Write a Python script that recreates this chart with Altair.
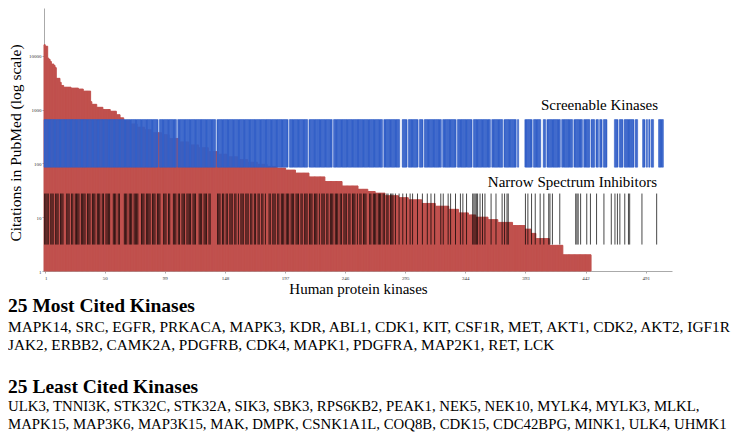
import altair as alt
import pandas as pd
import numpy as np

# ---- data ----
# sorted citation counts, as run-length steps (level, number of kinases)
citation_levels = [16000, 15000, 9000, 8500, 7800, 7000, 6600, 6000, 3800, 3200,
                   2800, 2600, 2500, 2400, 2200, 1400, 1250, 1100, 1000, 930,
                   800, 700, 620, 540, 470, 420, 370, 340, 290, 250,
                   220, 195, 165, 148, 132, 118, 105, 96, 88, 82,
                   75, 66, 56, 46, 38, 33, 30, 28, 25, 23,
                   21, 18, 16, 14, 12, 11, 10, 9, 8, 7,
                   6, 5, 4, 3, 2]
citation_counts = [1, 2, 1, 1, 1, 2, 1, 1, 3, 1,
                   2, 6, 6, 4, 6, 1, 4, 5, 6, 5,
                   3, 3, 5, 6, 6, 6, 8, 6, 8, 8,
                   8, 8, 8, 8, 8, 8, 8, 8, 8, 7,
                   8, 11, 13, 14, 13, 8, 6, 8, 11, 8,
                   11, 11, 11, 8, 8, 6, 10, 8, 12, 10,
                   5, 4, 11, 11, 23]

# screenable kinases: ranks 1..505 except these gaps
screenable_last = 505
screenable_gaps = [94, 109, 141, 200, 216, 236, 277, 291, 292, 297, 306, 310, 325,
                   337, 350, 365, 375, 386, 388, 389, 390, 391, 392, 399, 406, 407,
                   410, 422, 432, 440, 446, 450, 453, 456, 460, 461, 462, 463, 464,
                   465, 469, 473, 482, 485, 486, 487, 488, 491, 493, 495, 498, 499,
                   500, 501]

# narrow spectrum inhibitors: dense block ranks 1..285 except gaps, then sparse ranks
narrow_dense_last = 285
narrow_gaps = [5, 9, 13, 17, 18, 22, 25, 30, 35, 39, 43, 47, 50, 55, 56, 60, 63, 64,
               65, 69, 73, 78, 79, 83, 88, 92, 96, 97, 101, 104, 105, 109, 112, 116,
               121, 125, 126, 130, 134, 137, 138, 139, 140, 141, 145, 148, 151, 155,
               158, 160, 164, 168, 171, 174, 177, 180, 182, 183, 186, 190, 193, 197,
               201, 205, 209, 212, 216, 220, 224, 226, 230, 233, 237, 241, 244, 248,
               251, 255, 257, 260, 264, 265, 268, 272, 276, 279, 282]
narrow_sparse = [287, 290, 293, 296, 299, 301, 305, 309, 313, 316, 319, 324, 326,
                 330, 332, 336, 340, 342, 345, 350, 351, 352, 353, 354, 356, 358,
                 360, 365, 369, 374, 376, 378, 379, 393, 395, 398, 401, 405, 408,
                 412, 413, 415, 421, 434, 435, 436, 438, 443, 446, 451, 457, 463,
                 466, 468, 470, 474, 477, 478, 488, 500]

x_tick_values = [1, 50, 99, 148, 197, 246, 295, 344, 393, 442, 491]
y_tick_values = [1, 10, 100, 1000, 10000, 100000]

most_cited_title = "25 Most Cited Kinases"
most_cited_lines = [
    "MAPK14, SRC, EGFR, PRKACA, MAPK3, KDR, ABL1, CDK1, KIT, CSF1R, MET, AKT1, CDK2, AKT2, IGF1R",
    "JAK2, ERBB2, CAMK2A, PDGFRB, CDK4, MAPK1, PDGFRA, MAP2K1, RET, LCK",
]
least_cited_title = "25 Least Cited Kinases"
least_cited_lines = [
    "ULK3, TNNI3K, STK32C, STK32A, SIK3, SBK3, RPS6KB2, PEAK1, NEK5, NEK10, MYLK4, MYLK3, MLKL,",
    "MAPK15, MAP3K6, MAP3K15, MAK, DMPK, CSNK1A1L, COQ8B, CDK15, CDC42BPG, MINK1, ULK4, UHMK1",
]

# ---- tables ----
cit = np.repeat(citation_levels, citation_counts)
cit_df = pd.DataFrame({"rank": np.arange(1, len(cit) + 1), "citations": cit})
scr_df = pd.DataFrame({"rank": [i for i in range(1, screenable_last + 1) if i not in screenable_gaps]})
nar_df = pd.DataFrame({"rank": [i for i in range(1, narrow_dense_last + 1) if i not in narrow_gaps] + narrow_sparse})

# ---- style ----
RED = "#C0504D"
BLUE = "#3461C8"
FONT = "Liberation Serif"
W, H = 628, 263

x_scale = alt.Scale(domain=[0.5, 512.5], nice=False, zero=False)
y_scale = alt.Scale(type="log", domain=[1, 77000], nice=False)

x_axis = alt.Axis(values=x_tick_values, format="d", labelFont=FONT, labelFontSize=5,
                  labelColor="#333", tickSize=2, tickColor="#aaa", domainColor="#aaa",
                  grid=False, labelPadding=2, title="Human protein kinases",
                  titleFont=FONT, titleFontSize=15, titleFontWeight="normal",
                  titleY=17, titleBaseline="middle", titleColor="#000")
y_axis = alt.Axis(values=y_tick_values, format="d", labelFont=FONT, labelFontSize=5,
                  labelColor="#333", tickSize=2, tickColor="#aaa", domainColor="#aaa",
                  grid=False, labelPadding=1, title="Citations in PubMed (log scale)",
                  titleFont=FONT, titleFontSize=15.5, titleFontWeight="normal",
                  titleAngle=270, titleX=-28.5, titleY=H / 2 + 3, titleAlign="center",
                  titleBaseline="middle", titleColor="#000")

red = alt.Chart(cit_df).transform_calculate(
    x0="datum.rank - 0.5", x1="datum.rank + 0.5"
).mark_rect(color=RED, stroke=RED, strokeWidth=1).encode(
    x=alt.X("x0:Q", scale=x_scale, axis=x_axis),
    x2="x1:Q",
    y=alt.Y("citations:Q", scale=y_scale, axis=y_axis),
    y2=alt.datum(1),
)

blue = alt.Chart(scr_df).transform_calculate(
    x0="datum.rank - 0.5", x1="datum.rank + 0.5"
).mark_rect(color=BLUE, stroke=BLUE, strokeWidth=0.5).encode(
    x=alt.X("x0:Q", scale=x_scale),
    x2="x1:Q",
    y=alt.datum(650, scale=y_scale),
    y2=alt.datum(85),
)

black = alt.Chart(nar_df).mark_rule(color="#000", opacity=0.72, strokeWidth=1).encode(
    x=alt.X("rank:Q", scale=x_scale),
    y=alt.datum(27.5, scale=y_scale),
    y2=alt.datum(3.1),
)

one = pd.DataFrame({"k": [0]})


def label(txt, x, y, size, weight="normal", align="left"):
    return alt.Chart(one).mark_text(
        text=txt, font=FONT, fontSize=size, fontWeight=weight, align=align,
        baseline="middle", color="#000"
    ).encode(x=alt.value(x), y=alt.value(y))


texts = [
    label("Screenable Kinases", 614, 97, 15, align="right"),
    label("Narrow Spectrum Inhibitors", 613, 174, 15, align="right"),
    label(most_cited_title, -36, 298, 19.5, weight="bold"),
    label(most_cited_lines[0], -36, 319, 15.4),
    label(most_cited_lines[1], -36, 337, 15.3),
    label(least_cited_title, -36, 379, 19.5, weight="bold"),
    label(least_cited_lines[0], -36, 399, 14.8),
    label(least_cited_lines[1], -36, 417, 14.8),
]

chart = alt.layer(red, blue, black, *texts).properties(
    width=W, height=H, padding={"left": 0, "top": 0, "right": 0, "bottom": 0}
).configure_view(stroke=None)

chart.save("out.html", embed_options={"renderer": "svg", "actions": False})
